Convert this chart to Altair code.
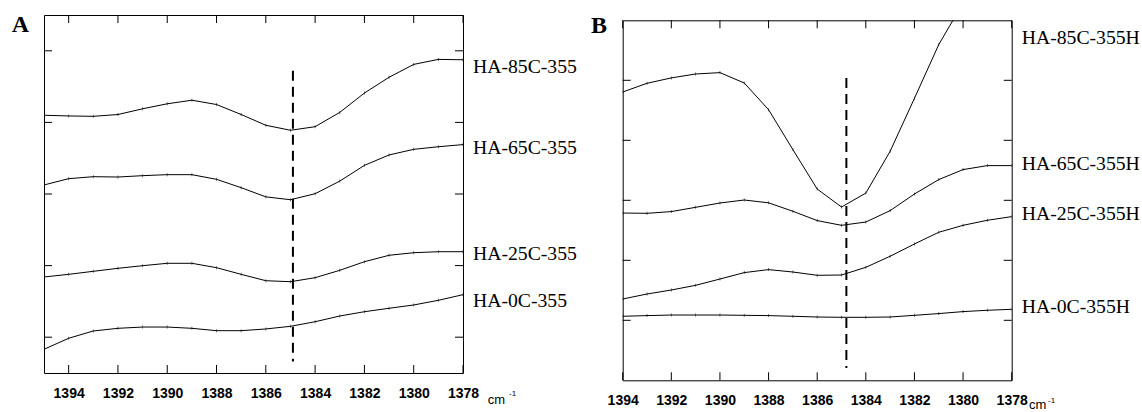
import altair as alt
import pandas as pd

# ---------------- Panel A data ----------------
wn_a = [1395, 1394, 1393, 1392, 1391, 1390, 1389, 1388, 1387, 1386,
        1385, 1384, 1383, 1382, 1381, 1380, 1379, 1378]
a_85 = [3.60, 3.59, 3.585, 3.61, 3.69, 3.76, 3.81, 3.75, 3.61, 3.46,
        3.39, 3.44, 3.64, 3.91, 4.13, 4.31, 4.38, 4.375]
a_65 = [2.626, 2.714, 2.742, 2.737, 2.756, 2.77, 2.77, 2.705, 2.588, 2.46,
        2.42, 2.504, 2.68, 2.90, 3.045, 3.124, 3.16, 3.19]
a_25 = [1.341, 1.378, 1.42, 1.462, 1.499, 1.532, 1.532, 1.471, 1.378, 1.289,
        1.275, 1.331, 1.434, 1.554, 1.644, 1.68, 1.694, 1.694]
a_0 = [0.331, 0.485, 0.587, 0.624, 0.642, 0.642, 0.624, 0.591, 0.591, 0.615,
       0.652, 0.716, 0.796, 0.856, 0.904, 0.95, 1.015, 1.094]
names_a = ["HA-85C-355", "HA-65C-355", "HA-25C-355", "HA-0C-355"]
label_y_a = [4.27, 3.14, 1.66, 1.006]
xticks_a = [1394, 1392, 1390, 1388, 1386, 1384, 1382, 1380, 1378]
yticks_a = [0.5, 1.5, 2.5, 3.5, 4.5]
dash_a = [1384.9, 4.22, 0.16]

# ---------------- Panel B data ----------------
wn_b = [1394, 1393, 1392, 1391, 1390, 1389, 1388, 1387, 1386, 1385,
        1384, 1383, 1382, 1381, 1380, 1379, 1378]
b_85 = [4.805, 4.95, 5.04, 5.105, 5.128, 4.955, 4.51, 3.845, 3.188, 2.888,
        3.12, 3.817, 4.70, 5.595, 6.29]
b_65 = [2.788, 2.783, 2.812, 2.883, 2.955, 3.005, 2.958, 2.817, 2.662, 2.583,
        2.638, 2.828, 3.105, 3.345, 3.512, 3.578, 3.578]
b_25 = [1.355, 1.438, 1.505, 1.583, 1.688, 1.795, 1.845, 1.805, 1.75, 1.755,
        1.883, 2.067, 2.272, 2.467, 2.583, 2.667, 2.728]
b_0 = [1.067, 1.078, 1.088, 1.088, 1.088, 1.083, 1.078, 1.067, 1.055, 1.05,
       1.05, 1.055, 1.083, 1.112, 1.145, 1.167, 1.183]
names_b = ["HA-85C-355H", "HA-65C-355H", "HA-25C-355H", "HA-0C-355H"]
label_y_b = [5.71, 3.605, 2.775, 1.217]
xticks_b = [1394, 1392, 1390, 1388, 1386, 1384, 1382, 1380, 1378]
yticks_b = [1, 2, 3, 4, 5]
dash_b = [1384.8, 5.04, 0.205]


def panel(wn, series, names, label_y, xdom, ydom, xticks, yticks, dash,
          letter, W, H, letter_pos, cm_pos, ext=None):
    rows = []
    for name, vals in zip(names, series):
        for w, v in zip(wn, vals):
            rows.append({"wn": w, "val": v, "series": name})
    df = pd.DataFrame(rows)

    xscale = alt.Scale(domain=xdom, reverse=True, nice=False, zero=False)
    yscale = alt.Scale(domain=ydom, nice=False, zero=False)
    xaxis = alt.Axis(values=xticks, format="d", ticks=False, tickSize=0,
                     domain=False, grid=False, title=None, labelPadding=13,
                     labelFlush=False, labelOverlap=False)

    def X(field):
        return alt.X(field, type="quantitative", scale=xscale, axis=xaxis)

    def Y(field):
        return alt.Y(field, type="quantitative", scale=yscale, axis=None)

    lines = alt.Chart(df).mark_line(color="black", strokeWidth=1, clip=True).encode(
        x=X("wn"), y=Y("val"), detail="series:N")
    dots = alt.Chart(df).mark_tick(orient="vertical", size=3, thickness=0.8,
                                   color="black", clip=True).encode(
        x=X("wn"), y=Y("val"))

    xt = pd.DataFrame({"t": xticks})
    yt = pd.DataFrame({"t": yticks})
    tl = 8
    top_ticks = alt.Chart(xt).mark_rule(color="black", strokeWidth=1).encode(
        x=X("t"), y=alt.value(0), y2=alt.value(tl))
    bot_ticks = alt.Chart(xt).mark_rule(color="black", strokeWidth=1).encode(
        x=X("t"), y=alt.value(H), y2=alt.value(H - tl))
    left_ticks = alt.Chart(yt).mark_rule(color="black", strokeWidth=1).encode(
        y=Y("t"), x=alt.value(0), x2=alt.value(tl))
    right_ticks = alt.Chart(yt).mark_rule(color="black", strokeWidth=1).encode(
        y=Y("t"), x=alt.value(W), x2=alt.value(W - tl))

    ddf = pd.DataFrame({"x": [dash[0]], "y1": [dash[1]], "y2": [dash[2]]})
    dashed = alt.Chart(ddf).mark_rule(color="black", strokeWidth=2,
                                      strokeDash=[10, 6]).encode(
        x=X("x"), y=Y("y1"), y2="y2:Q")

    ldf = pd.DataFrame({"name": names, "ly": label_y})
    labels = alt.Chart(ldf).mark_text(align="left", baseline="middle",
                                      font="Liberation Serif", fontSize=19.7,
                                      color="black").encode(
        x=alt.value(W + 10), y=Y("ly"), text="name:N")

    let = alt.Chart(pd.DataFrame({"t": [letter]})).mark_text(
        align="left", baseline="alphabetic", font="Liberation Serif",
        fontWeight="bold", fontSize=24, color="black").encode(
        x=alt.value(letter_pos[0]), y=alt.value(letter_pos[1]), text="t:N")

    cm = alt.Chart(pd.DataFrame({"t": ["cm"]})).mark_text(
        align="left", baseline="alphabetic", font="Liberation Sans",
        fontSize=13, color="black").encode(
        x=alt.value(W + cm_pos[0]), y=alt.value(H + cm_pos[1]), text="t:N")
    sup = alt.Chart(pd.DataFrame({"t": ["-1"]})).mark_text(
        align="left", baseline="alphabetic", font="Liberation Sans",
        fontSize=8, color="black").encode(
        x=alt.value(W + cm_pos[2]), y=alt.value(H + cm_pos[3]), text="t:N")

    layers = [top_ticks, bot_ticks, left_ticks, right_ticks,
              lines, dots, dashed, labels, let, cm, sup]
    if ext is not None:
        spacer = alt.Chart(pd.DataFrame({"s": [0]})).mark_rule(opacity=0).encode(
            x=alt.value(-ext[0]), x2=alt.value(W + ext[1]), y=alt.value(-ext[2]))
        layers = [spacer] + layers
    return alt.layer(*layers).properties(width=W, height=H)


WA, HA = 419, 358
WB, HB = 389, 360

pa = panel(wn_a, [a_85, a_65, a_25, a_0], names_a, label_y_a, [1378, 1395], [0, 5],
           xticks_a, yticks_a, dash_a, "A", WA, HA,
           letter_pos=(-32.3, 16.7), cm_pos=(24.7, 31.3, 46, 23), ext=(33, 0, 10))
pb = panel(wn_b, [b_85, b_65, b_25, b_0], names_b, label_y_b, [1378, 1394], [0, 6],
           xticks_b, yticks_b, dash_b, "B", WB, HB,
           letter_pos=(-31.7, 13), cm_pos=(17.3, 29, 36.3, 22.4))

top_gap = alt.Chart(pd.DataFrame({"s": [0]})).mark_rule(opacity=0).encode(
    x=alt.value(0), y=alt.value(0)).properties(
    width=WB, height=1, view=alt.ViewBackground(stroke="transparent"))

pb_col = alt.vconcat(top_gap, pb, spacing=4.3, bounds="flush")

chart = alt.hconcat(pa, pb_col, spacing=159.7, bounds="flush").properties(
    padding={"left": 10, "top": 4, "right": 0, "bottom": 0},
    background="white",
).configure_view(
    stroke="black", strokeWidth=1
).configure_axis(
    labelFont="Liberation Sans", labelFontWeight="bold", labelFontSize=14,
    labelColor="black"
)

chart.save("out.html", embed_options={"renderer": "svg", "actions": False})
